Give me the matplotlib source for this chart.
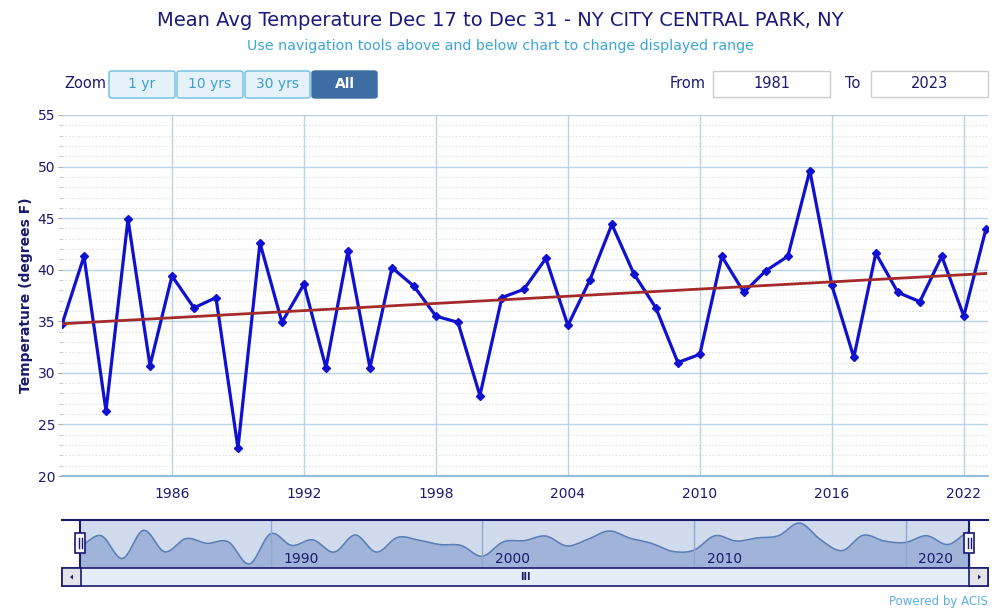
import numpy as np
import matplotlib.pyplot as plt
from matplotlib.patches import Rectangle, FancyBboxPatch, Polygon

# data (Dec 17 - Dec 31 mean avg temperature, deg F)
years = list(range(1981, 2024))
temps = [34.7, 41.3, 26.3, 44.9, 30.7, 39.4, 36.3, 37.3, 22.7, 42.6,
         34.9, 38.6, 30.5, 41.8, 30.5, 40.2, 38.4, 35.5, 34.9, 27.8,
         37.3, 38.1, 41.1, 34.6, 39.0, 44.4, 39.6, 36.3, 31.0, 31.8,
         41.3, 37.8, 39.9, 41.3, 49.6, 38.5, 31.5, 41.6, 37.8, 36.9,
         41.3, 35.5, 43.9]
x_ticks = [1986, 1992, 1998, 2004, 2010, 2016, 2022]
y_ticks = [20, 25, 30, 35, 40, 45, 50, 55]
nav_ticks = [1990, 2000, 2010, 2020]
zoom_buttons = ['1 yr', '10 yrs', '30 yrs', 'All']

NAVY = '#1a1a6e'
GRID = '#b7d4e8'
W, H = 1000, 611


def fx(x):
    return x / W


def fy(y):
    return 1 - y / H


def smooth(x, y, n=10):
    # catmull-rom style curve through the points, for the navigator area
    y = np.asarray(y, float)
    yp = np.concatenate([[y[0]], y, [y[-1]]])
    t = np.linspace(0, 1, n, endpoint=False)
    xs, ys = [], []
    for i in range(len(y) - 1):
        p0, p1, p2, p3 = yp[i], yp[i + 1], yp[i + 2], yp[i + 3]
        seg = 0.5 * (2 * p1 + (-p0 + p2) * t + (2 * p0 - 5 * p1 + 4 * p2 - p3) * t ** 2
                     + (-p0 + 3 * p1 - 3 * p2 + p3) * t ** 3)
        xs.extend(x[i] + t * (x[i + 1] - x[i]))
        ys.extend(seg)
    xs.append(x[-1])
    ys.append(y[-1])
    return np.array(xs), np.array(ys)


fig = plt.figure(figsize=(10, 6.11), dpi=100)

# ---- main chart ----
ax = fig.add_axes([fx(62), fy(476), fx(988 - 62), (476 - 115) / H])
ax.set_xlim(1981, 2023.1)
ax.set_ylim(20, 55)
ax.set_yticks(y_ticks)
ax.set_yticks(np.arange(20, 56, 1), minor=True)
ax.set_xticks(x_ticks)
ax.grid(which='minor', axis='y', color='#d8d8d8', linestyle=(0, (1, 2)), linewidth=0.8)
ax.grid(which='major', axis='y', color=GRID, linewidth=1.0)
ax.grid(which='major', axis='x', color=GRID, linewidth=1.0)
for s in ['top', 'right', 'left']:
    ax.spines[s].set_visible(False)
ax.spines['bottom'].set_color('#7fb0d2')
ax.spines['bottom'].set_linewidth(1.2)
ax.tick_params(axis='y', which='major', length=3, color='#aaaaaa', labelsize=10, labelcolor=NAVY, pad=2)
ax.tick_params(axis='y', which='minor', length=2, color='#bbbbbb')
ax.tick_params(axis='x', length=0, labelsize=10, labelcolor=NAVY, pad=8)
ax.set_ylabel('Temperature (degrees F)', color=NAVY, fontsize=10, fontweight='bold', labelpad=3)

ax.plot(years, temps, color='#1010d0', linewidth=2.3, marker='D', markersize=4, zorder=3)
slope, icpt = np.polyfit(years, temps, 1)
tx = np.array([years[0], years[-1]])
ax.plot(tx, slope * tx + icpt, color='#a52a2a', linewidth=2, zorder=4)

# ---- titles ----
fig.text(0.5, fy(20), 'Mean Avg Temperature Dec 17 to Dec 31 - NY CITY CENTRAL PARK, NY',
         ha='center', va='center', fontsize=14, color='#1a1a7a')
fig.text(0.5, fy(46), 'Use navigation tools above and below chart to change displayed range',
         ha='center', va='center', fontsize=10.3, color='#3ca6d6')

# ---- zoom buttons / range inputs ----
fig.text(fx(85), fy(84), 'Zoom', ha='center', va='center', fontsize=10.5, color=NAVY)
bx = [108, 176, 244, 311, 378]
for i, lab in enumerate(zoom_buttons):
    sel = lab == 'All'
    fig.patches.append(FancyBboxPatch((fx(bx[i] + 1), fy(98)), fx(bx[i + 1] - bx[i] - 2), (98 - 71) / H,
                                      boxstyle='round,pad=0,rounding_size=0.003',
                                      transform=fig.transFigure,
                                      facecolor='#3e6da4' if sel else '#e5f2fa',
                                      edgecolor='#3e6da4' if sel else '#6cbfe0', linewidth=1))
    fig.text(fx((bx[i] + bx[i + 1]) / 2), fy(84), lab, ha='center', va='center', fontsize=10,
             color='white' if sel else '#3da0cc', fontweight='bold' if sel else 'normal')

fig.text(fx(688), fy(84), 'From', ha='center', va='center', fontsize=10.5, color=NAVY)
fig.text(fx(853), fy(84), 'To', ha='center', va='center', fontsize=10.5, color=NAVY)
for x0, x1, lab in [(713, 830, str(years[0])), (871, 988, str(years[-1]))]:
    fig.patches.append(Rectangle((fx(x0), fy(97)), fx(x1 - x0), (97 - 71) / H,
                                 transform=fig.transFigure, facecolor='white',
                                 edgecolor='#cccccc', linewidth=1))
    fig.text(fx((x0 + x1) / 2), fy(84), lab, ha='center', va='center', fontsize=10.5, color=NAVY)

# ---- navigator ----
nav = fig.add_axes([fx(62), fy(568), fx(926), (568 - 520) / H])
px_per_yr = (969 - 80) / (years[-1] - years[0])
nav.set_xlim(years[0] - 18 / px_per_yr, years[-1] + 19 / px_per_yr)
nav.set_ylim(20.1, 51.6)
nav.axvspan(years[0], years[-1], color='#d0dbee', zorder=0)
sx, sy = smooth(years, temps)
nav.fill_between(sx, 0, sy, color='#9fb4d8', zorder=1)
nav.plot(sx, sy, color='#5a7db5', linewidth=1.1, zorder=2)
for t in nav_ticks:
    nav.axvline(t, color='#8fa8cf', linewidth=1, zorder=2)
    nav.text(t + 0.6, 21.3, str(t), ha='left', va='bottom', fontsize=10, color=NAVY, zorder=3)
nav.set_xticks([])
nav.set_yticks([])
for s in nav.spines.values():
    s.set_visible(False)
nav.plot([nav.get_xlim()[0], nav.get_xlim()[1]], [51.6, 51.6], color=NAVY, linewidth=1.5,
         clip_on=False, zorder=5)
for t in [years[0], years[-1]]:
    nav.axvline(t, color=NAVY, linewidth=1.5, zorder=5)

# handles
for xp in [80, 969]:
    fig.patches.append(Rectangle((fx(xp - 5), fy(553)), fx(10), (553 - 533) / H,
                                 transform=fig.transFigure, facecolor='#f4f6fb',
                                 edgecolor=NAVY, linewidth=1.2, zorder=6))
    for dx in (-1.5, 1.5):
        fig.add_artist(plt.Line2D([fx(xp + dx)] * 2, [fy(538), fy(548)], color=NAVY, linewidth=1,
                                  zorder=7))

# scrollbar
fig.patches.append(Rectangle((fx(62), fy(586)), fx(926), (586 - 568) / H, transform=fig.transFigure,
                             facecolor='#e4eef9', edgecolor=NAVY, linewidth=1.2))
for x0 in [62, 969]:
    fig.patches.append(Rectangle((fx(x0), fy(586)), fx(19), (586 - 568) / H, transform=fig.transFigure,
                                 facecolor='#e3e3e8', edgecolor=NAVY, linewidth=1.2))
fig.patches.append(Polygon([(fx(70), fy(577)), (fx(73), fy(574.5)), (fx(73), fy(579.5))],
                           closed=True, transform=fig.transFigure, facecolor=NAVY))
fig.patches.append(Polygon([(fx(981), fy(577)), (fx(978), fy(574.5)), (fx(978), fy(579.5))],
                           closed=True, transform=fig.transFigure, facecolor=NAVY))
fig.text(fx(525), fy(577), 'III', ha='center', va='center', fontsize=7, color=NAVY, fontweight='bold')

fig.text(fx(988), fy(601), 'Powered by ACIS', ha='right', va='center', fontsize=8.5, color='#5ab0da')

fig.savefig('out.png', dpi=100)
